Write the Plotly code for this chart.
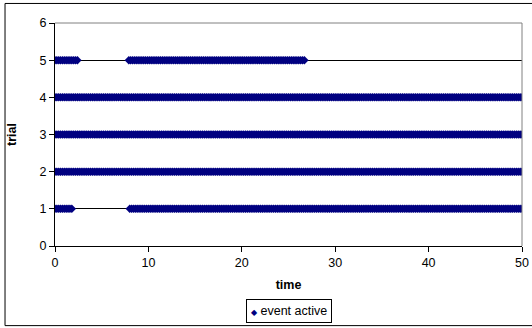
import plotly.graph_objects as go

# --- data ---
trials = [1, 2, 3, 4, 5]
# active time intervals (start, end) per trial
active_intervals = {
    1: [(0.0, 1.9), (8.0, 50.0)],
    2: [(0.0, 50.0)],
    3: [(0.0, 50.0)],
    4: [(0.0, 50.0)],
    5: [(0.0, 2.5), (7.9, 26.6)],
}
sample_step = 0.2
x_ticks = [0, 10, 20, 30, 40, 50]
y_ticks = [0, 1, 2, 3, 4, 5, 6]
series_name = "event active"

xs, ys = [], []
for t in trials:
    for a, b in active_intervals[t]:
        n = int(round((b - a) / sample_step)) + 1
        for i in range(n):
            xs.append(a + i * sample_step)
            ys.append(t)

FAM = "Liberation Sans, Arial, sans-serif"
FS = 12.5

fig = go.Figure()
fig.add_trace(go.Scatter(
    x=xs, y=ys, mode="markers", name=series_name,
    marker=dict(symbol="diamond", size=6.5, color="#000080",
                line=dict(width=0)),
    showlegend=False,
))

fig.update_layout(
    width=532, height=328,
    margin=dict(l=55, r=10, t=23, b=82),
    paper_bgcolor="white", plot_bgcolor="white",
    font=dict(family=FAM, size=FS, color="#000000"),
    showlegend=False,
    xaxis=dict(
        range=[0, 50], tickvals=x_ticks, ticktext=[str(v) for v in x_ticks],
        showgrid=False, zeroline=False, automargin=False,
        showline=True, linecolor="#000000", linewidth=1,
        ticks="outside", ticklen=5, tickcolor="#000000",
        tickfont=dict(family=FAM, size=FS),
        title=dict(text="<b>time</b>", standoff=11,
                   font=dict(family=FAM, size=FS)),
    ),
    yaxis=dict(
        range=[0, 6], tickvals=y_ticks, ticktext=[str(v) for v in y_ticks],
        showgrid=True, gridcolor="#000000", gridwidth=1,
        zeroline=False, automargin=False,
        showline=True, linecolor="#000000", linewidth=1,
        ticks="outside", ticklen=5, tickcolor="#000000",
        tickfont=dict(family=FAM, size=FS),
        title=dict(text="<b>trial</b>", standoff=20,
                   font=dict(family=FAM, size=FS)),
    ),
    annotations=[
        dict(xref="paper", yref="paper", x=0.5, y=-0.292,
             xanchor="center", yanchor="middle", showarrow=False,
             text="<span style='font-size:8px;color:#000080'>◆</span> " + series_name,
             font=dict(family=FAM, size=FS, color="#000000"),
             bordercolor="#000000", borderwidth=1, borderpad=4,
             bgcolor="white"),
    ],
    shapes=[
        dict(type="line", xref="paper", yref="paper", x0=0, x1=1, y0=1, y1=1,
             line=dict(color="#808080", width=1), layer="above"),
        dict(type="line", xref="paper", yref="paper", x0=1, x1=1, y0=0, y1=1,
             line=dict(color="#808080", width=1), layer="above"),
        dict(type="rect", xref="paper", yref="paper",
             x0=-0.107, x1=1.05, y0=-0.357, y1=1.0876,
             line=dict(color="#000000", width=1), fillcolor="rgba(0,0,0,0)",
             layer="above"),
    ],
)

fig.write_html("out.html",
               config={"displayModeBar": False},
               post_script="document.body.style.margin='0';document.body.style.overflow='hidden';")
